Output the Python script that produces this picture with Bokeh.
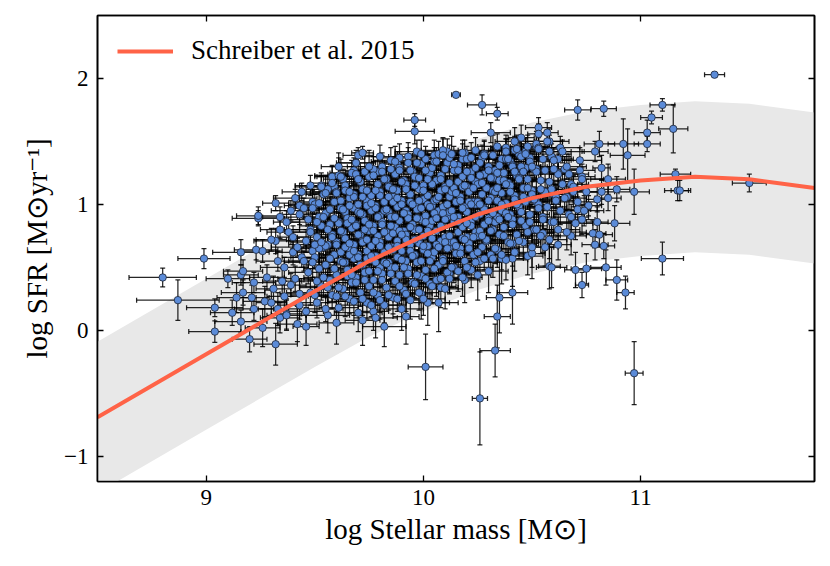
from math import pi
from bokeh.plotting import figure
from bokeh.models import ColumnDataSource, FixedTicker, LinearAxis, CustomJSTickFormatter, Range1d
from bokeh.embed import file_html
from bokeh.resources import INLINE

# ---------------- data ----------------
# Schreiber et al. 2015 main sequence
curve_mass = [8.5, 9.0, 9.5, 9.75, 10.0, 10.25, 10.5, 10.75, 11.0, 11.25, 11.5, 11.8]
curve_sfr = [-0.69, -0.19, 0.31, 0.55, 0.75, 0.92, 1.05, 1.14, 1.19, 1.22, 1.20, 1.13]
# grey scatter band (upper and lower edges read at the same masses)
band_upper = [-0.09, 0.41, 0.91, 1.15, 1.35, 1.52, 1.65, 1.74, 1.79, 1.82, 1.80, 1.73]
band_lower = [-1.29, -0.79, -0.29, -0.05, 0.15, 0.32, 0.45, 0.54, 0.59, 0.62, 0.60, 0.53]

# outlying / edge galaxies
sparse_mass = [8.80, 8.87, 8.99, 9.04, 9.04, 9.10, 9.12, 9.16, 9.16, 9.16, 9.17, 9.14, 9.17, 9.20, 9.21,
               9.22, 9.22, 9.23, 9.24, 9.24, 9.26, 9.26, 9.27, 9.28, 9.30, 9.32, 9.32, 9.32, 9.33, 9.34,
               9.34, 9.35, 9.36, 9.37, 9.42, 9.43, 9.43, 9.44, 9.46, 9.48, 9.49, 9.53, 9.59, 9.60, 9.68,
               9.69, 9.70, 9.72, 9.72, 9.77, 9.79, 9.82, 9.84, 9.88, 9.89, 9.92, 9.96, 9.96, 9.99, 10.01,
               10.05, 10.07, 10.08, 10.08, 10.11, 10.12, 10.15, 10.18, 10.19, 10.25, 10.26, 10.27, 10.27, 10.31, 10.33,
               10.34, 10.34, 10.35, 10.36, 10.38, 10.41, 10.41, 10.41, 10.45, 10.47, 10.48, 10.50, 10.52, 10.53, 10.53,
               10.55, 10.55, 10.56, 10.57, 10.58, 10.58, 10.59, 10.62, 10.62, 10.65, 10.66, 10.68, 10.70, 10.71, 10.71,
               10.72, 10.73, 10.73, 10.73, 10.75, 10.76, 10.78, 10.79, 10.79, 10.80, 10.80, 10.81, 10.81, 10.82, 10.82,
               10.83, 10.83, 10.84, 10.85, 10.85, 10.88, 10.89, 10.89, 10.92, 10.93, 10.94, 10.97, 10.97, 11.03, 11.03,
               11.05, 11.10, 11.10, 11.15, 11.16, 11.17, 11.18, 11.34, 11.50]
sparse_sfr = [0.42, 0.24, 0.57, -0.01, 0.18, 0.41, 0.14, 0.07, 0.62, 0.44, 0.47, 0.26, 0.30, -0.07, 0.26,
              0.38, 0.17, 0.64, 0.89, 0.91, 0.63, 0.02, 0.23, 0.42, 0.22, 1.01, 0.71, -0.11, 0.17, 0.90,
              0.10, 0.39, 0.27, 0.13, 0.05, 0.99, 0.29, 1.10, 0.03, 1.15, 1.02, 1.15, 1.14, 0.06, 1.27,
              1.33, 1.39, 1.41, 0.08, 0.15, 1.26, 0.03, 1.15, 1.32, 1.37, 0.11, 1.58, 1.67, 0.29, -0.29,
              1.39, 0.22, 0.53, 0.34, 1.42, 0.45, 1.87, 1.36, 0.40, 0.44, -0.54, 1.79, 1.37, 1.57, -0.16,
              1.72, 0.11, 0.26, 0.57, 1.45, 0.30, 0.57, 0.69, 1.53, 1.42, 0.59, 0.61, 1.46, 1.61, 1.56,
              0.77, 0.90, 0.66, 1.57, 0.51, 1.50, 0.50, 0.68, 1.36, 1.28, 1.06, 0.75, 0.48, 1.75, 0.96,
              1.27, 0.36, 0.88, 1.22, 0.49, 0.99, 0.77, 1.42, 0.68, 0.86, 1.04, 0.76, 1.48, 1.29, 1.10,
              1.76, 0.67, 0.50, 1.05, 1.20, 0.85, 0.40, 1.12, 1.48, 0.30, 1.39, 1.10, -0.34, 1.48, 1.57,
              1.69, 1.79, 0.57, 1.60, 1.24, 1.11, 1.11, 2.03, 1.17]
sparse_mass_err = [0.155, 0.19, 0.12, 0.12, 0.13, 0.10, 0.10, 0.12, 0.13, 0.08, 0.09, 0.09, 0.10, 0.08, 0.08,
                   0.10, 0.09, 0.10, 0.12, 0.10, 0.09, 0.08, 0.10, 0.08, 0.07, 0.06, 0.10, 0.10, 0.09, 0.08,
                   0.09, 0.09, 0.08, 0.07, 0.09, 0.07, 0.09, 0.09, 0.06, 0.07, 0.09, 0.10, 0.12, 0.08, 0.07,
                   0.09, 0.07, 0.05, 0.08, 0.07, 0.07, 0.10, 0.10, 0.08, 0.08, 0.06, 0.09, 0.05, 0.05, 0.08,
                   0.10, 0.09, 0.07, 0.08, 0.06, 0.09, 0.02, 0.07, 0.07, 0.06, 0.035, 0.067, 0.08, 0.09, 0.07,
                   0.05, 0.06, 0.06, 0.04, 0.07, 0.07, 0.05, 0.06, 0.06, 0.07, 0.07, 0.06, 0.06, 0.06, 0.05,
                   0.05, 0.06, 0.06, 0.05, 0.05, 0.06, 0.07, 0.06, 0.07, 0.06, 0.05, 0.07, 0.05, 0.06, 0.06,
                   0.07, 0.03, 0.06, 0.06, 0.07, 0.06, 0.06, 0.06, 0.06, 0.05, 0.05, 0.06, 0.07, 0.04, 0.06,
                   0.058, 0.05, 0.07, 0.06, 0.08, 0.07, 0.05, 0.06, 0.07, 0.04, 0.08, 0.07, 0.041, 0.06, 0.06,
                   0.05, 0.057, 0.097, 0.067, 0.07, 0.06, 0.04, 0.046, 0.078]
sparse_sfr_err = [0.075, 0.16, 0.08, 0.085, 0.07, 0.07, 0.10, 0.09, 0.10, 0.08, 0.09, 0.12, 0.10, 0.10, 0.10,
                  0.08, 0.09, 0.08, 0.06, 0.07, 0.09, 0.15, 0.12, 0.10, 0.10, 0.06, 0.10, 0.165, 0.13, 0.08,
                  0.12, 0.10, 0.12, 0.12, 0.14, 0.08, 0.12, 0.07, 0.15, 0.08, 0.09, 0.08, 0.10, 0.17, 0.10,
                  0.08, 0.06, 0.05, 0.20, 0.15, 0.12, 0.16, 0.12, 0.10, 0.11, 0.22, 0.10, 0.05, 0.20, 0.26,
                  0.12, 0.23, 0.17, 0.16, 0.10, 0.15, 0.02, 0.12, 0.18, 0.20, 0.37, 0.08, 0.10, 0.08, 0.21,
                  0.05, 0.25, 0.28, 0.20, 0.10, 0.25, 0.22, 0.18, 0.10, 0.10, 0.15, 0.20, 0.10, 0.08, 0.08,
                  0.15, 0.12, 0.15, 0.08, 0.18, 0.10, 0.16, 0.12, 0.10, 0.10, 0.10, 0.15, 0.14, 0.08, 0.10,
                  0.10, 0.10, 0.12, 0.10, 0.12, 0.08, 0.10, 0.08, 0.12, 0.12, 0.10, 0.10, 0.10, 0.10, 0.10,
                  0.06, 0.10, 0.14, 0.10, 0.12, 0.14, 0.16, 0.10, 0.20, 0.13, 0.21, 0.18, 0.25, 0.06, 0.10,
                  0.05, 0.05, 0.13, 0.19, 0.04, 0.08, 0.08, 0.02, 0.07]

# densely packed galaxies in the core of the sequence (one line per mass strip)
core_mass = [
    9.31, 9.33, 9.30, 9.34,
    9.37, 9.39, 9.36, 9.40, 9.38, 9.37, 9.39,
    9.43, 9.41, 9.44, 9.42, 9.40, 9.43, 9.41,
    9.46, 9.48, 9.47, 9.45, 9.49, 9.46, 9.48, 9.47, 9.45,
    9.51, 9.53, 9.52, 9.50, 9.54, 9.51, 9.53, 9.52, 9.50, 9.54,
    9.56, 9.58, 9.57, 9.55, 9.59, 9.56, 9.58, 9.57, 9.55, 9.59, 9.56, 9.58,
    9.61, 9.63, 9.60, 9.64, 9.62, 9.60, 9.63, 9.61, 9.64, 9.62, 9.60, 9.63, 9.61,
    9.66, 9.67, 9.65, 9.68, 9.66, 9.64, 9.67, 9.65, 9.68, 9.66, 9.64, 9.67,
    9.70, 9.71, 9.69, 9.72, 9.70, 9.68, 9.71, 9.69, 9.72, 9.70, 9.68, 9.71, 9.69,
    9.74, 9.75, 9.73, 9.76, 9.74, 9.72, 9.75, 9.73, 9.76, 9.74, 9.72, 9.75,
    9.78, 9.79, 9.77, 9.80, 9.78, 9.76, 9.79, 9.77, 9.80, 9.78, 9.76, 9.79, 9.77, 9.80,
    9.82, 9.83, 9.81, 9.84, 9.82, 9.80, 9.83, 9.81, 9.84, 9.82, 9.80, 9.83, 9.81,
    9.86, 9.87, 9.85, 9.88, 9.86, 9.84, 9.87, 9.85, 9.88, 9.86, 9.84, 9.87, 9.85,
    9.90, 9.91, 9.89, 9.92, 9.90, 9.88, 9.91, 9.89, 9.92, 9.90, 9.88, 9.91, 9.89,
    9.94, 9.95, 9.93, 9.96, 9.94, 9.92, 9.95, 9.93, 9.96, 9.94, 9.92, 9.95, 9.93,
    9.98, 9.99, 9.97, 10.00, 9.98, 9.96, 9.99, 9.97, 10.00, 9.98, 9.96, 9.99, 9.97,
    10.02, 10.03, 10.01, 10.04, 10.02, 10.00, 10.03, 10.01, 10.04, 10.02, 10.00, 10.03, 10.01,
    10.06, 10.07, 10.05, 10.08, 10.06, 10.04, 10.07, 10.05, 10.08, 10.06, 10.04, 10.07,
    10.10, 10.11, 10.09, 10.12, 10.10, 10.08, 10.11, 10.09, 10.12, 10.10, 10.08, 10.11, 10.09,
    10.14, 10.15, 10.13, 10.16, 10.14, 10.12, 10.15, 10.13, 10.16, 10.14, 10.12,
    10.18, 10.19, 10.17, 10.20, 10.18, 10.16, 10.19, 10.17, 10.20, 10.18, 10.16, 10.19,
    10.22, 10.23, 10.21, 10.24, 10.22, 10.20, 10.23, 10.21, 10.24, 10.22, 10.20,
    10.26, 10.27, 10.25, 10.28, 10.26, 10.24, 10.27, 10.25, 10.28, 10.26, 10.24,
    10.30, 10.31, 10.29, 10.32, 10.30, 10.28, 10.31, 10.29, 10.32, 10.30, 10.28,
    10.34, 10.35, 10.33, 10.36, 10.34, 10.32, 10.35, 10.33, 10.36, 10.34,
    10.38, 10.39, 10.37, 10.40, 10.38, 10.36, 10.39, 10.37, 10.40, 10.38,
    10.42, 10.43, 10.41, 10.44, 10.42, 10.40, 10.43, 10.41, 10.44, 10.42,
    10.46, 10.47, 10.45, 10.48, 10.46, 10.44, 10.47, 10.45, 10.48,
    10.50, 10.51, 10.49, 10.52, 10.50, 10.48, 10.51, 10.49, 10.52,
    10.54, 10.55, 10.53, 10.56, 10.54, 10.52, 10.55, 10.53,
    10.58, 10.59, 10.57, 10.60, 10.58, 10.56, 10.59, 10.57,
    10.62, 10.63, 10.61, 10.64, 10.62, 10.60, 10.63,
    10.66, 10.67, 10.65, 10.68, 10.66, 10.64,
    10.70, 10.71, 10.69, 10.72,
    10.74, 10.75, 10.73]
core_sfr = [
    0.33, 0.55, 0.72, 0.80,
    0.12, 0.36, 0.50, 0.62, 0.78, 0.86, 0.95,
    0.20, 0.41, 0.58, 0.66, 0.74, 0.92, 1.05,
    0.15, 0.30, 0.46, 0.55, 0.63, 0.71, 0.80, 0.88, 0.97,
    0.22, 0.35, 0.49, 0.58, 0.66, 0.74, 0.83, 0.90, 1.00, 1.08,
    0.12, 0.28, 0.40, 0.52, 0.60, 0.68, 0.76, 0.84, 0.93, 1.02, 1.12, 1.22,
    0.18, 0.33, 0.44, 0.54, 0.62, 0.70, 0.78, 0.86, 0.94, 1.03, 1.10, 1.20, 1.30,
    0.25, 0.38, 0.48, 0.57, 0.65, 0.73, 0.81, 0.89, 0.97, 1.05, 1.15, 1.25,
    0.14, 0.30, 0.42, 0.52, 0.60, 0.68, 0.76, 0.84, 0.92, 1.00, 1.08, 1.18, 1.33,
    0.22, 0.35, 0.46, 0.56, 0.63, 0.71, 0.79, 0.87, 0.95, 1.03, 1.12, 1.22,
    0.10, 0.28, 0.40, 0.50, 0.59, 0.67, 0.75, 0.83, 0.91, 0.99, 1.07, 1.16, 1.28, 1.38,
    0.20, 0.34, 0.45, 0.54, 0.62, 0.70, 0.78, 0.86, 0.94, 1.02, 1.10, 1.20, 1.30,
    0.26, 0.39, 0.50, 0.58, 0.66, 0.74, 0.82, 0.90, 0.98, 1.06, 1.14, 1.24, 1.35,
    0.17, 0.32, 0.44, 0.55, 0.63, 0.71, 0.79, 0.87, 0.95, 1.03, 1.11, 1.19, 1.29,
    0.24, 0.38, 0.49, 0.60, 0.68, 0.76, 0.84, 0.92, 1.00, 1.08, 1.16, 1.26, 1.38,
    0.30, 0.43, 0.54, 0.64, 0.72, 0.80, 0.88, 0.96, 1.04, 1.12, 1.22, 1.32, 1.42,
    0.22, 0.37, 0.48, 0.58, 0.67, 0.75, 0.83, 0.91, 0.99, 1.07, 1.15, 1.25, 1.36,
    0.40, 0.52, 0.62, 0.71, 0.79, 0.87, 0.95, 1.03, 1.11, 1.19, 1.29, 1.40,
    0.33, 0.46, 0.57, 0.66, 0.74, 0.82, 0.90, 0.98, 1.06, 1.14, 1.23, 1.33, 1.43,
    0.50, 0.61, 0.70, 0.78, 0.86, 0.94, 1.02, 1.10, 1.18, 1.27, 1.37,
    0.42, 0.55, 0.65, 0.74, 0.82, 0.90, 0.98, 1.06, 1.14, 1.22, 1.31, 1.41,
    0.48, 0.60, 0.69, 0.78, 0.86, 0.94, 1.02, 1.10, 1.18, 1.26, 1.36,
    0.55, 0.66, 0.75, 0.84, 0.92, 1.00, 1.08, 1.16, 1.24, 1.33, 1.43,
    0.47, 0.60, 0.71, 0.80, 0.89, 0.97, 1.05, 1.13, 1.21, 1.30, 1.40,
    0.64, 0.76, 0.86, 0.95, 1.03, 1.11, 1.19, 1.27, 1.36, 1.46,
    0.56, 0.70, 0.82, 0.92, 1.01, 1.09, 1.17, 1.25, 1.34, 1.42,
    0.62, 0.76, 0.88, 0.98, 1.07, 1.15, 1.23, 1.31, 1.40, 1.50,
    0.70, 0.83, 0.94, 1.04, 1.13, 1.21, 1.29, 1.38, 1.46,
    0.66, 0.80, 0.92, 1.02, 1.11, 1.20, 1.28, 1.37, 1.48,
    0.75, 0.88, 1.00, 1.10, 1.19, 1.28, 1.36, 1.45,
    0.72, 0.86, 0.98, 1.08, 1.18, 1.27, 1.38, 1.50,
    0.80, 0.95, 1.06, 1.16, 1.25, 1.35, 1.45,
    0.78, 0.92, 1.05, 1.16, 1.30, 1.42,
    0.85, 1.02, 1.14, 1.35,
    0.95, 1.10, 1.20]
core_mass_err = [
    0.08, 0.10, 0.07, 0.09,
    0.09, 0.07, 0.11, 0.08, 0.10, 0.06, 0.09,
    0.10, 0.08, 0.09, 0.12, 0.07, 0.08, 0.10,
    0.08, 0.11, 0.09, 0.07, 0.10, 0.08, 0.12, 0.09, 0.07,
    0.09, 0.10, 0.07, 0.11, 0.08, 0.09, 0.10, 0.07, 0.12, 0.08,
    0.10, 0.08, 0.12, 0.09, 0.07, 0.10, 0.08, 0.11, 0.09, 0.07, 0.10, 0.08,
    0.09, 0.11, 0.08, 0.10, 0.07, 0.12, 0.09, 0.08, 0.10, 0.07, 0.11, 0.09, 0.08,
    0.08, 0.10, 0.09, 0.07, 0.11, 0.08, 0.10, 0.09, 0.07, 0.12, 0.08, 0.10,
    0.11, 0.09, 0.08, 0.10, 0.07, 0.09, 0.12, 0.08, 0.10, 0.09, 0.07, 0.11, 0.08,
    0.09, 0.08, 0.11, 0.09, 0.10, 0.07, 0.08, 0.11, 0.09, 0.08, 0.10, 0.07,
    0.10, 0.08, 0.09, 0.12, 0.07, 0.10, 0.08, 0.09, 0.11, 0.07, 0.09, 0.10, 0.08, 0.07,
    0.08, 0.10, 0.09, 0.07, 0.11, 0.08, 0.09, 0.10, 0.07, 0.12, 0.08, 0.09, 0.10,
    0.09, 0.11, 0.08, 0.10, 0.07, 0.09, 0.12, 0.08, 0.10, 0.09, 0.07, 0.11, 0.08,
    0.10, 0.08, 0.09, 0.11, 0.08, 0.10, 0.07, 0.09, 0.12, 0.08, 0.10, 0.09, 0.07,
    0.08, 0.10, 0.11, 0.07, 0.09, 0.08, 0.10, 0.12, 0.08, 0.09, 0.07, 0.10, 0.09,
    0.09, 0.07, 0.10, 0.08, 0.11, 0.09, 0.08, 0.10, 0.07, 0.09, 0.12, 0.08, 0.10,
    0.10, 0.08, 0.09, 0.11, 0.07, 0.10, 0.08, 0.09, 0.12, 0.08, 0.10, 0.07, 0.09,
    0.09, 0.11, 0.08, 0.10, 0.07, 0.09, 0.12, 0.08, 0.10, 0.09, 0.07, 0.10,
    0.08, 0.10, 0.09, 0.07, 0.11, 0.08, 0.10, 0.09, 0.07, 0.12, 0.08, 0.09, 0.10,
    0.10, 0.08, 0.11, 0.09, 0.07, 0.10, 0.08, 0.09, 0.11, 0.07, 0.09,
    0.09, 0.07, 0.10, 0.08, 0.11, 0.09, 0.08, 0.10, 0.07, 0.09, 0.12, 0.08,
    0.08, 0.10, 0.09, 0.11, 0.07, 0.10, 0.08, 0.09, 0.12, 0.08, 0.10,
    0.10, 0.08, 0.09, 0.07, 0.11, 0.08, 0.10, 0.09, 0.07, 0.10, 0.08,
    0.09, 0.11, 0.08, 0.10, 0.07, 0.09, 0.12, 0.08, 0.10, 0.09, 0.07,
    0.08, 0.10, 0.09, 0.07, 0.11, 0.08, 0.09, 0.10, 0.08, 0.09,
    0.10, 0.08, 0.09, 0.11, 0.07, 0.10, 0.08, 0.09, 0.07, 0.10,
    0.09, 0.07, 0.10, 0.08, 0.11, 0.09, 0.08, 0.10, 0.07, 0.09,
    0.08, 0.10, 0.09, 0.07, 0.11, 0.08, 0.09, 0.10, 0.08,
    0.10, 0.08, 0.09, 0.11, 0.07, 0.10, 0.08, 0.09, 0.07,
    0.09, 0.07, 0.10, 0.08, 0.11, 0.09, 0.08, 0.10,
    0.08, 0.10, 0.09, 0.07, 0.11, 0.08, 0.09, 0.10,
    0.10, 0.08, 0.09, 0.07, 0.11, 0.08, 0.09,
    0.09, 0.07, 0.10, 0.08, 0.09, 0.10,
    0.08, 0.09, 0.07, 0.10,
    0.09, 0.08, 0.10]
core_sfr_err = [
    0.10, 0.08, 0.09, 0.07,
    0.12, 0.09, 0.08, 0.10, 0.07, 0.09, 0.08,
    0.11, 0.10, 0.08, 0.07, 0.09, 0.08, 0.07,
    0.13, 0.10, 0.09, 0.08, 0.07, 0.09, 0.08, 0.10, 0.08,
    0.12, 0.11, 0.09, 0.08, 0.07, 0.08, 0.09, 0.07, 0.08, 0.09,
    0.14, 0.11, 0.10, 0.08, 0.09, 0.07, 0.08, 0.09, 0.07, 0.08, 0.10, 0.09,
    0.13, 0.10, 0.09, 0.08, 0.07, 0.09, 0.08, 0.07, 0.09, 0.08, 0.10, 0.08, 0.11,
    0.12, 0.10, 0.08, 0.09, 0.07, 0.08, 0.09, 0.07, 0.08, 0.09, 0.08, 0.10,
    0.15, 0.11, 0.09, 0.08, 0.08, 0.07, 0.09, 0.08, 0.07, 0.09, 0.08, 0.09, 0.10,
    0.13, 0.10, 0.09, 0.08, 0.07, 0.09, 0.08, 0.07, 0.08, 0.09, 0.08, 0.10,
    0.16, 0.12, 0.10, 0.09, 0.08, 0.07, 0.08, 0.09, 0.07, 0.08, 0.09, 0.08, 0.10, 0.09,
    0.14, 0.11, 0.09, 0.08, 0.07, 0.08, 0.09, 0.07, 0.08, 0.09, 0.07, 0.09, 0.11,
    0.13, 0.10, 0.09, 0.08, 0.08, 0.07, 0.09, 0.08, 0.07, 0.08, 0.09, 0.08, 0.10,
    0.17, 0.12, 0.10, 0.09, 0.08, 0.07, 0.08, 0.09, 0.07, 0.08, 0.09, 0.08, 0.10,
    0.15, 0.11, 0.10, 0.08, 0.07, 0.09, 0.08, 0.07, 0.08, 0.09, 0.08, 0.09, 0.11,
    0.14, 0.11, 0.09, 0.08, 0.08, 0.07, 0.09, 0.08, 0.07, 0.08, 0.09, 0.10, 0.09,
    0.18, 0.12, 0.10, 0.09, 0.08, 0.07, 0.08, 0.09, 0.07, 0.08, 0.09, 0.08, 0.10,
    0.13, 0.10, 0.09, 0.08, 0.07, 0.08, 0.09, 0.07, 0.08, 0.09, 0.08, 0.10,
    0.16, 0.12, 0.10, 0.09, 0.08, 0.07, 0.08, 0.09, 0.07, 0.08, 0.09, 0.08, 0.10,
    0.12, 0.10, 0.09, 0.08, 0.07, 0.08, 0.09, 0.07, 0.08, 0.09, 0.10,
    0.15, 0.11, 0.09, 0.08, 0.08, 0.07, 0.09, 0.08, 0.07, 0.08, 0.09, 0.10,
    0.14, 0.11, 0.09, 0.08, 0.07, 0.08, 0.09, 0.07, 0.08, 0.09, 0.10,
    0.13, 0.10, 0.09, 0.08, 0.07, 0.08, 0.09, 0.07, 0.08, 0.09, 0.10,
    0.17, 0.12, 0.10, 0.09, 0.08, 0.07, 0.08, 0.09, 0.07, 0.08, 0.10,
    0.14, 0.10, 0.09, 0.08, 0.07, 0.08, 0.09, 0.08, 0.09, 0.10,
    0.16, 0.12, 0.10, 0.08, 0.08, 0.07, 0.09, 0.08, 0.09, 0.10,
    0.15, 0.11, 0.09, 0.08, 0.07, 0.08, 0.09, 0.08, 0.09, 0.11,
    0.13, 0.10, 0.09, 0.08, 0.07, 0.08, 0.09, 0.10, 0.09,
    0.16, 0.12, 0.10, 0.09, 0.08, 0.07, 0.09, 0.08, 0.10,
    0.14, 0.11, 0.09, 0.08, 0.07, 0.09, 0.08, 0.10,
    0.15, 0.12, 0.10, 0.08, 0.08, 0.09, 0.10, 0.09,
    0.13, 0.11, 0.09, 0.08, 0.09, 0.10, 0.09,
    0.14, 0.12, 0.10, 0.09, 0.10, 0.09,
    0.13, 0.10, 0.09, 0.10,
    0.12, 0.10, 0.09]

# second layer of galaxies filling the densest part of the cloud
dense_mass = [
    9.50, 9.51, 9.49, 9.52, 9.50, 9.48, 9.51, 9.49, 9.52,
    9.55, 9.56, 9.54, 9.57, 9.55, 9.53, 9.56, 9.54, 9.57, 9.55, 9.53,
    9.60, 9.61, 9.59, 9.62, 9.60, 9.58, 9.61, 9.59, 9.62, 9.60, 9.58, 9.61,
    9.64, 9.65, 9.63, 9.66, 9.64, 9.62, 9.65, 9.63, 9.66, 9.64, 9.62,
    9.68, 9.69, 9.67, 9.70, 9.68, 9.66, 9.69, 9.67, 9.70, 9.68, 9.66, 9.69,
    9.72, 9.73, 9.71, 9.74, 9.72, 9.70, 9.73, 9.71, 9.74, 9.72, 9.70, 9.73,
    9.76, 9.77, 9.75, 9.78, 9.76, 9.74, 9.77, 9.75, 9.78, 9.76, 9.74, 9.77, 9.75,
    9.80, 9.81, 9.79, 9.82, 9.80, 9.78, 9.81, 9.79, 9.82, 9.80, 9.78, 9.81,
    9.84, 9.85, 9.83, 9.86, 9.84, 9.82, 9.85, 9.83, 9.86, 9.84, 9.82, 9.85,
    9.88, 9.89, 9.87, 9.90, 9.88, 9.86, 9.89, 9.87, 9.90, 9.88, 9.86, 9.89, 9.87,
    9.92, 9.93, 9.91, 9.94, 9.92, 9.90, 9.93, 9.91, 9.94, 9.92, 9.90, 9.93,
    9.96, 9.97, 9.95, 9.98, 9.96, 9.94, 9.97, 9.95, 9.98, 9.96, 9.94, 9.97,
    10.00, 10.01, 9.99, 10.02, 10.00, 9.98, 10.01, 9.99, 10.02, 10.00, 9.98, 10.01, 9.99,
    10.04, 10.05, 10.03, 10.06, 10.04, 10.02, 10.05, 10.03, 10.06, 10.04, 10.02, 10.05,
    10.08, 10.09, 10.07, 10.10, 10.08, 10.06, 10.09, 10.07, 10.10, 10.08, 10.06, 10.09,
    10.12, 10.13, 10.11, 10.14, 10.12, 10.10, 10.13, 10.11, 10.14, 10.12, 10.10, 10.13,
    10.16, 10.17, 10.15, 10.18, 10.16, 10.14, 10.17, 10.15, 10.18, 10.16, 10.14,
    10.20, 10.21, 10.19, 10.22, 10.20, 10.18, 10.21, 10.19, 10.22, 10.20, 10.18,
    10.24, 10.25, 10.23, 10.26, 10.24, 10.22, 10.25, 10.23, 10.26, 10.24, 10.22,
    10.28, 10.29, 10.27, 10.30, 10.28, 10.26, 10.29, 10.27, 10.30, 10.28,
    10.32, 10.33, 10.31, 10.34, 10.32, 10.30, 10.33, 10.31, 10.34, 10.32,
    10.36, 10.37, 10.35, 10.38, 10.36, 10.34, 10.37, 10.35, 10.38,
    10.40, 10.41, 10.39, 10.42, 10.40, 10.38, 10.41, 10.39, 10.42,
    10.44, 10.45, 10.43, 10.46, 10.44, 10.42, 10.45, 10.43,
    10.48, 10.49, 10.47, 10.50, 10.48, 10.46, 10.49, 10.47,
    10.52, 10.53, 10.51, 10.54, 10.52, 10.50, 10.53,
    10.60, 10.61, 10.59, 10.62, 10.60, 10.58,
    10.68, 10.69, 10.67]
dense_sfr = [
    0.28, 0.39, 0.54, 0.65, 0.68, 0.78, 0.86, 0.97, 1.01,
    0.17, 0.34, 0.42, 0.57, 0.67, 0.70, 0.80, 0.90, 0.96, 1.09, 1.14,
    0.27, 0.34, 0.49, 0.55, 0.68, 0.74, 0.85, 0.89, 0.97, 1.09, 1.17, 1.23,
    0.27, 0.43, 0.54, 0.60, 0.66, 0.79, 0.85, 0.96, 0.99, 1.11, 1.22,
    0.23, 0.38, 0.44, 0.58, 0.63, 0.69, 0.83, 0.88, 0.94, 1.06, 1.10, 1.24,
    0.25, 0.40, 0.52, 0.57, 0.70, 0.76, 0.80, 0.93, 0.99, 1.06, 1.20, 1.26,
    0.20, 0.30, 0.47, 0.54, 0.59, 0.72, 0.79, 0.84, 0.97, 1.01, 1.11, 1.23, 1.30,
    0.24, 0.40, 0.47, 0.54, 0.67, 0.71, 0.84, 0.90, 0.95, 1.07, 1.11, 1.26,
    0.28, 0.45, 0.53, 0.64, 0.66, 0.78, 0.83, 0.96, 1.02, 1.06, 1.20, 1.28,
    0.25, 0.35, 0.50, 0.56, 0.67, 0.77, 0.79, 0.90, 1.00, 1.05, 1.12, 1.27, 1.34,
    0.29, 0.45, 0.50, 0.63, 0.72, 0.76, 0.89, 0.93, 1.02, 1.12, 1.18, 1.33,
    0.37, 0.44, 0.59, 0.69, 0.72, 0.82, 0.89, 1.00, 1.03, 1.15, 1.27, 1.33,
    0.25, 0.41, 0.55, 0.61, 0.67, 0.80, 0.86, 0.97, 1.00, 1.11, 1.21, 1.27, 1.40,
    0.35, 0.49, 0.55, 0.68, 0.73, 0.79, 0.93, 0.98, 1.04, 1.16, 1.20, 1.34,
    0.41, 0.55, 0.66, 0.70, 0.83, 0.89, 0.93, 1.06, 1.12, 1.20, 1.34, 1.39,
    0.41, 0.50, 0.65, 0.70, 0.75, 0.88, 0.95, 1.00, 1.13, 1.17, 1.28, 1.40,
    0.47, 0.61, 0.67, 0.73, 0.86, 0.90, 1.03, 1.09, 1.14, 1.27, 1.32,
    0.50, 0.65, 0.72, 0.83, 0.85, 0.97, 1.02, 1.15, 1.21, 1.26, 1.41,
    0.54, 0.62, 0.74, 0.79, 0.90, 1.00, 1.02, 1.13, 1.23, 1.29, 1.37,
    0.57, 0.72, 0.75, 0.87, 0.96, 1.00, 1.13, 1.17, 1.27, 1.39,
    0.57, 0.65, 0.79, 0.90, 0.93, 1.03, 1.10, 1.21, 1.25, 1.39,
    0.60, 0.75, 0.88, 0.93, 1.00, 1.13, 1.19, 1.31, 1.36,
    0.69, 0.84, 0.90, 1.04, 1.10, 1.16, 1.30, 1.36, 1.43,
    0.71, 0.87, 1.00, 1.06, 1.20, 1.26, 1.30, 1.44,
    0.78, 0.86, 1.02, 1.08, 1.13, 1.26, 1.34, 1.40,
    0.80, 0.97, 1.04, 1.12, 1.26, 1.30, 1.44,
    0.86, 1.03, 1.12, 1.24, 1.28, 1.42,
    0.90, 1.10, 1.24]
dense_mass_err = [
    0.11, 0.08, 0.13, 0.09, 0.12, 0.10, 0.14, 0.08, 0.11,
    0.08, 0.13, 0.09, 0.12, 0.10, 0.14, 0.08, 0.11, 0.13, 0.09, 0.12,
    0.13, 0.09, 0.12, 0.10, 0.14, 0.08, 0.11, 0.13, 0.09, 0.12, 0.10, 0.11,
    0.09, 0.12, 0.10, 0.14, 0.08, 0.11, 0.13, 0.09, 0.12, 0.10, 0.11,
    0.12, 0.10, 0.14, 0.08, 0.11, 0.13, 0.09, 0.12, 0.10, 0.11, 0.08, 0.13,
    0.10, 0.14, 0.08, 0.11, 0.13, 0.09, 0.12, 0.10, 0.11, 0.08, 0.13, 0.09,
    0.14, 0.08, 0.11, 0.13, 0.09, 0.12, 0.10, 0.11, 0.08, 0.13, 0.09, 0.12, 0.10,
    0.08, 0.11, 0.13, 0.09, 0.12, 0.10, 0.11, 0.08, 0.13, 0.09, 0.12, 0.10,
    0.11, 0.13, 0.09, 0.12, 0.10, 0.11, 0.08, 0.13, 0.09, 0.12, 0.10, 0.14,
    0.13, 0.09, 0.12, 0.10, 0.11, 0.08, 0.13, 0.09, 0.12, 0.10, 0.14, 0.08, 0.11,
    0.09, 0.12, 0.10, 0.11, 0.08, 0.13, 0.09, 0.12, 0.10, 0.14, 0.08, 0.11,
    0.12, 0.10, 0.11, 0.08, 0.13, 0.09, 0.12, 0.10, 0.14, 0.08, 0.11, 0.13,
    0.10, 0.11, 0.08, 0.13, 0.09, 0.12, 0.10, 0.14, 0.08, 0.11, 0.13, 0.09, 0.12,
    0.11, 0.08, 0.13, 0.09, 0.12, 0.10, 0.14, 0.08, 0.11, 0.13, 0.09, 0.12,
    0.08, 0.13, 0.09, 0.12, 0.10, 0.14, 0.08, 0.11, 0.13, 0.09, 0.12, 0.10,
    0.13, 0.09, 0.12, 0.10, 0.14, 0.08, 0.11, 0.13, 0.09, 0.12, 0.10, 0.11,
    0.09, 0.12, 0.10, 0.14, 0.08, 0.11, 0.13, 0.09, 0.12, 0.10, 0.11,
    0.12, 0.10, 0.14, 0.08, 0.11, 0.13, 0.09, 0.12, 0.10, 0.11, 0.08,
    0.10, 0.14, 0.08, 0.11, 0.13, 0.09, 0.12, 0.10, 0.11, 0.08, 0.13,
    0.14, 0.08, 0.11, 0.13, 0.09, 0.12, 0.10, 0.11, 0.08, 0.13,
    0.08, 0.11, 0.13, 0.09, 0.12, 0.10, 0.11, 0.08, 0.13, 0.09,
    0.11, 0.13, 0.09, 0.12, 0.10, 0.11, 0.08, 0.13, 0.09,
    0.13, 0.09, 0.12, 0.10, 0.11, 0.08, 0.13, 0.09, 0.12,
    0.09, 0.12, 0.10, 0.11, 0.08, 0.13, 0.09, 0.12,
    0.12, 0.10, 0.11, 0.08, 0.13, 0.09, 0.12, 0.10,
    0.10, 0.11, 0.08, 0.13, 0.09, 0.12, 0.10,
    0.11, 0.08, 0.13, 0.09, 0.12, 0.10,
    0.08, 0.13, 0.09]
dense_sfr_err = [
    0.14, 0.10, 0.12, 0.16, 0.11, 0.13, 0.09, 0.15, 0.12,
    0.10, 0.12, 0.16, 0.11, 0.13, 0.09, 0.15, 0.12, 0.10, 0.14, 0.11,
    0.12, 0.16, 0.11, 0.13, 0.09, 0.15, 0.12, 0.10, 0.14, 0.11, 0.13, 0.14,
    0.16, 0.11, 0.13, 0.09, 0.15, 0.12, 0.10, 0.14, 0.11, 0.13, 0.14,
    0.11, 0.13, 0.09, 0.15, 0.12, 0.10, 0.14, 0.11, 0.13, 0.14, 0.10, 0.12,
    0.13, 0.09, 0.15, 0.12, 0.10, 0.14, 0.11, 0.13, 0.14, 0.10, 0.12, 0.16,
    0.09, 0.15, 0.12, 0.10, 0.14, 0.11, 0.13, 0.14, 0.10, 0.12, 0.16, 0.11, 0.13,
    0.15, 0.12, 0.10, 0.14, 0.11, 0.13, 0.14, 0.10, 0.12, 0.16, 0.11, 0.13,
    0.12, 0.10, 0.14, 0.11, 0.13, 0.14, 0.10, 0.12, 0.16, 0.11, 0.13, 0.09,
    0.10, 0.14, 0.11, 0.13, 0.14, 0.10, 0.12, 0.16, 0.11, 0.13, 0.09, 0.15, 0.12,
    0.14, 0.11, 0.13, 0.14, 0.10, 0.12, 0.16, 0.11, 0.13, 0.09, 0.15, 0.12,
    0.11, 0.13, 0.14, 0.10, 0.12, 0.16, 0.11, 0.13, 0.09, 0.15, 0.12, 0.10,
    0.13, 0.14, 0.10, 0.12, 0.16, 0.11, 0.13, 0.09, 0.15, 0.12, 0.10, 0.14, 0.11,
    0.14, 0.10, 0.12, 0.16, 0.11, 0.13, 0.09, 0.15, 0.12, 0.10, 0.14, 0.11,
    0.10, 0.12, 0.16, 0.11, 0.13, 0.09, 0.15, 0.12, 0.10, 0.14, 0.11, 0.13,
    0.12, 0.16, 0.11, 0.13, 0.09, 0.15, 0.12, 0.10, 0.14, 0.11, 0.13, 0.14,
    0.16, 0.11, 0.13, 0.09, 0.15, 0.12, 0.10, 0.14, 0.11, 0.13, 0.14,
    0.11, 0.13, 0.09, 0.15, 0.12, 0.10, 0.14, 0.11, 0.13, 0.14, 0.10,
    0.13, 0.09, 0.15, 0.12, 0.10, 0.14, 0.11, 0.13, 0.14, 0.10, 0.12,
    0.09, 0.15, 0.12, 0.10, 0.14, 0.11, 0.13, 0.14, 0.10, 0.12,
    0.15, 0.12, 0.10, 0.14, 0.11, 0.13, 0.14, 0.10, 0.12, 0.16,
    0.12, 0.10, 0.14, 0.11, 0.13, 0.14, 0.10, 0.12, 0.16,
    0.10, 0.14, 0.11, 0.13, 0.14, 0.10, 0.12, 0.16, 0.11,
    0.14, 0.11, 0.13, 0.14, 0.10, 0.12, 0.16, 0.11,
    0.11, 0.13, 0.14, 0.10, 0.12, 0.16, 0.11, 0.13,
    0.13, 0.14, 0.10, 0.12, 0.16, 0.11, 0.13,
    0.14, 0.10, 0.12, 0.16, 0.11, 0.13,
    0.10, 0.12, 0.16]

legend_text = "Schreiber et al. 2015"
x_title = "log Stellar mass [M\u2299]"
y_title = "log SFR [M\u2299yr\u207b\u00b9]"
x_ticks = [9, 10, 11]
y_ticks = [-1, 0, 1, 2]

# ---------------- figure ----------------
mass = sparse_mass + core_mass + dense_mass
sfr = sparse_sfr + core_sfr + dense_sfr
mass_err = sparse_mass_err + core_mass_err + dense_mass_err
sfr_err = sparse_sfr_err + core_sfr_err + dense_sfr_err
assert len(mass) == len(sfr) == len(mass_err) == len(sfr_err), (len(mass), len(sfr), len(mass_err), len(sfr_err))

src = ColumnDataSource(dict(
    x=mass, y=sfr,
    xlo=[m - e for m, e in zip(mass, mass_err)],
    xhi=[m + e for m, e in zip(mass, mass_err)],
    ylo=[s - e for s, e in zip(sfr, sfr_err)],
    yhi=[s + e for s, e in zip(sfr, sfr_err)],
))

FONT = "Liberation Serif"

p = figure(frame_width=717, frame_height=466,
           x_range=Range1d(8.5, 11.8), y_range=Range1d(-1.2, 2.5),
           output_backend="svg", toolbar_location=None,
           min_border_left=97, min_border_right=8, min_border_top=15, min_border_bottom=70)
p.grid.visible = False
p.outline_line_color = "black"
p.outline_line_width = 1.6

p.varea(x=curve_mass, y1=band_lower, y2=band_upper, fill_color="#e8e8e8")

bar = dict(line_color="black", line_alpha=0.85, line_width=1.25)
p.segment("xlo", "y", "xhi", "y", source=src, **bar)
p.segment("x", "ylo", "x", "yhi", source=src, **bar)
p.scatter("x", "ylo", source=src, marker="dash", size=5, **bar)
p.scatter("x", "yhi", source=src, marker="dash", size=5, **bar)
p.scatter("xlo", "y", source=src, marker="dash", angle=pi / 2, size=5, **bar)
p.scatter("xhi", "y", source=src, marker="dash", angle=pi / 2, size=5, **bar)

p.scatter("x", "y", source=src, marker="circle", size=7.4,
          fill_color="#5B8BD8", line_color="#1c2333", line_width=0.8)

p.line(curve_mass, curve_sfr, line_color="#FF6347", line_width=4, legend_label=legend_text)


def style_axis(ax, ticks):
    ax.ticker = FixedTicker(ticks=ticks)
    ax.major_tick_in = 6
    ax.major_tick_out = 0
    ax.minor_tick_in = 0
    ax.minor_tick_out = 0
    ax.major_tick_line_width = 1.3
    ax.axis_line_width = 1.6
    ax.major_label_text_font = FONT
    ax.major_label_text_font_size = "23px"
    ax.major_label_text_color = "black"
    ax.axis_label_text_font = FONT
    ax.axis_label_text_font_size = "29px"
    ax.axis_label_text_font_style = "normal"
    ax.axis_label_text_color = "black"


style_axis(p.xaxis[0], x_ticks)
style_axis(p.yaxis[0], y_ticks)
p.xaxis.axis_label = x_title
p.yaxis.axis_label = y_title
p.xaxis.major_label_standoff = 8
p.yaxis.major_label_standoff = 9
p.xaxis.axis_label_standoff = 5
p.yaxis.axis_label_standoff = 8
p.yaxis.formatter = CustomJSTickFormatter(code="return tick < 0 ? '\u2212' + Math.abs(tick) : String(tick);")

blank = CustomJSTickFormatter(code="return '';")
top = LinearAxis(formatter=blank, major_label_standoff=0)
right = LinearAxis(formatter=blank, major_label_standoff=0)
style_axis(top, x_ticks)
style_axis(right, y_ticks)
top.major_label_text_font_size = "0px"
right.major_label_text_font_size = "0px"
p.add_layout(top, "above")
p.add_layout(right, "right")

lg = p.legend[0]
lg.location = "top_left"
lg.border_line_color = None
lg.background_fill_alpha = 0
lg.margin = 20
lg.padding = 10
lg.glyph_width = 56
lg.glyph_height = 24
lg.label_standoff = 18
lg.label_text_font = FONT
lg.label_text_font_size = "27px"
lg.label_text_color = "black"
lg.spacing = 0

open("out.html", "w").write(file_html(p, INLINE))
